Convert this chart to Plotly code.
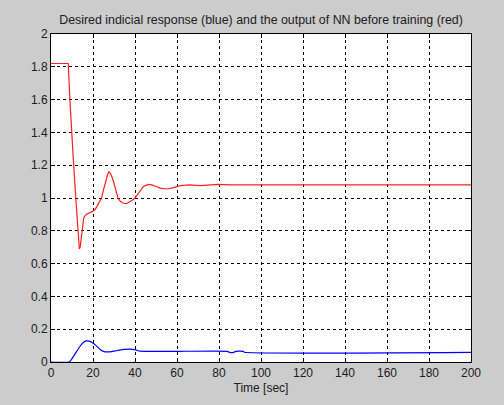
import plotly.graph_objects as go

# Red: output of NN before training
t_red = [0, 8.2, 9.0, 9.8, 10.6, 11.8, 12.8, 13.2, 13.5, 13.9, 14.3, 15.0, 15.6, 16.7, 18.5, 20, 21, 22, 23, 24.1, 25, 26, 27, 27.6, 28.3, 29.3, 30.5, 31.9, 33, 34.5, 36, 37.5, 39, 40, 42, 44, 46.3, 48, 50, 52, 55.1, 58, 61.4, 66, 71, 75, 79.5, 85, 200]
y_red = [1.82, 1.82, 1.60, 1.40, 1.24, 1.00, 0.80, 0.72, 0.69, 0.70, 0.74, 0.84, 0.88, 0.90, 0.91, 0.92, 0.93, 0.95, 0.975, 1.00, 1.05, 1.10, 1.145, 1.16, 1.15, 1.12, 1.06, 1.00, 0.98, 0.968, 0.965, 0.975, 0.99, 1.00, 1.035, 1.07, 1.083, 1.08, 1.07, 1.06, 1.055, 1.062, 1.075, 1.08, 1.076, 1.08, 1.083, 1.08, 1.08]

# Blue: desired indicial response
t_blue = [0, 8.7, 11, 13.5, 15.5, 16.7, 18, 19.4, 21.5, 23.5, 25.7, 28, 30, 32, 35, 37.6, 40, 42.4, 60, 84, 85, 87, 88, 91.6, 92, 200]
y_blue = [0.0, 0.0, 0.04, 0.09, 0.12, 0.129, 0.127, 0.12, 0.10, 0.075, 0.062, 0.062, 0.066, 0.071, 0.077, 0.079, 0.075, 0.066, 0.065, 0.065, 0.059, 0.059, 0.065, 0.065, 0.059, 0.059]

x_ticks = [0, 20, 40, 60, 80, 100, 120, 140, 160, 180, 200]
y_ticks = [0, 0.2, 0.4, 0.6, 0.8, 1, 1.2, 1.4, 1.6, 1.8, 2]
y_labels = ["0", "0.2", "0.4", "0.6", "0.8", "1", "1.2", "1.4", "1.6", "1.8", "2"]

FONT = "Liberation Sans, Arial, sans-serif"

fig = go.Figure()
fig.add_trace(go.Scatter(x=t_red, y=y_red, mode="lines",
                         line=dict(color="#ff2020", width=1.2),
                         showlegend=False))
fig.add_trace(go.Scatter(x=t_blue, y=y_blue, mode="lines",
                         line=dict(color="#0000ff", width=1.2, shape="spline", smoothing=0.4),
                         showlegend=False))

axis_common = dict(
    showline=True, linecolor="black", linewidth=1, mirror="ticks",
    ticks="inside", ticklen=4, tickcolor="black",
    showgrid=True, gridcolor="black", gridwidth=1, griddash="3px,3px",
    zeroline=False,
    tickfont=dict(family=FONT, size=12, color="#202020"),
)

fig.update_xaxes(range=[0, 200], tickvals=x_ticks, ticktext=[str(v) for v in x_ticks],
                 title=dict(text="Time [sec]", standoff=4,
                            font=dict(family=FONT, size=12, color="#202020")),
                 **axis_common)
fig.update_yaxes(range=[0, 2], tickvals=y_ticks, ticktext=y_labels, **axis_common)

fig.update_layout(
    width=504, height=405,
    margin=dict(l=51, r=33, t=34, b=41),
    paper_bgcolor="#cccccc", plot_bgcolor="white",
    title=dict(text="Desired indicial response (blue) and the output of NN before training (red)",
               x=0.5, xref="paper", xanchor="center", y=1 - 20 / 405, yanchor="middle",
               font=dict(family=FONT, size=12.4, color="#202020")),
)

fig.write_html("out.html")
